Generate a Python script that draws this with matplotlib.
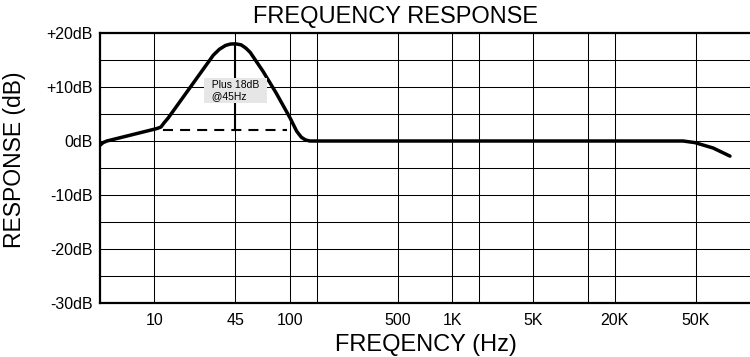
import numpy as np
import matplotlib
matplotlib.use("Agg")
import matplotlib.pyplot as plt
from matplotlib.ticker import FixedLocator, NullFormatter

plt.rcParams['font.family'] = ['Liberation Sans', 'DejaVu Sans']

# response curve, frequency in Hz and level in dB
freq = [5, 5.2, 5.46, 10.5, 11.35, 12.0, 13.0, 29.9, 33.5, 37.5, 41, 45, 49, 52.5, 56,
        67.6, 82.0, 101, 120, 135, 150, 168,
        43300, 49500, 62400, 77400]
level = [-0.8, -0.3, 0, 2.3, 2.6, 3.35, 4.3, 15.9, 17.0, 17.7, 17.95, 18, 17.8, 17.2, 16.4,
         12.9, 8.9, 4.3, 1.8, 0.7, 0.2, 0,
         0, -0.3, -1.3, -2.8]

# boost marker
peak_freq = 45
peak_db = 18
base_db = 2
base_span = [11.8, 96]

tick_freqs = [10, 45, 100, 500, 1000, 5000, 20000, 50000]
tick_labels = ['10', '45', '100', '500', '1K', '5K', '20K', '50K']
extra_grid = [200, 2000, 10000]
db_ticks = [20, 10, 0, -10, -20, -30]
db_labels = ['+20dB', '+10dB', '0dB', '-10dB', '-20dB', '-30dB']

# the printed chart spaces its frequency grid unevenly, so map it piecewise
anchor_f = np.log10([5, 10, 45, 100, 200, 500, 1000, 2000, 5000, 10000, 20000, 50000, 100000])
anchor_u = np.array([0, 2, 5, 7, 8, 11, 13, 14, 16, 18, 19, 22, 24], dtype=float)


def fwd(f):
    f = np.clip(np.asarray(f, dtype=float), 1e-3, None)
    return np.interp(np.log10(f), anchor_f, anchor_u)


def inv(u):
    return 10 ** np.interp(np.asarray(u, dtype=float), anchor_u, anchor_f)


fig = plt.figure(figsize=(7.5, 3.57), dpi=100)
ax = fig.add_axes([100 / 750, 1 - 303 / 357, 1 - 100 / 750, (303 - 33) / 357])
ax.set_xscale('function', functions=(fwd, inv))
ax.set_xlim(5, 100000)
ax.set_ylim(-30, 20)

ax.xaxis.set_major_locator(FixedLocator(tick_freqs))
ax.set_xticklabels(tick_labels)
ax.xaxis.set_minor_locator(FixedLocator(extra_grid))
ax.xaxis.set_minor_formatter(NullFormatter())
ax.yaxis.set_major_locator(FixedLocator(db_ticks))
ax.set_yticklabels(db_labels)
ax.yaxis.set_minor_locator(FixedLocator([15, 5, -5, -15, -25]))
ax.tick_params(which='both', length=0, labelsize=11.5, colors='black')
ax.tick_params(axis='x', pad=7)
ax.tick_params(axis='y', pad=5)

ax.grid(which='both', color='black', linewidth=0.75)
ax.set_axisbelow(True)
for side in ['left', 'bottom', 'top']:
    ax.spines[side].set_linewidth(1.6)
ax.spines['right'].set_visible(False)

ax.plot(freq, level, color='black', linewidth=2.5, solid_capstyle='round',
        solid_joinstyle='round', zorder=4)
ax.plot([peak_freq, peak_freq], [base_db, peak_db], color='black', linewidth=1.5, zorder=3)
ax.plot(base_span, [base_db, base_db], color='black', linewidth=1.5,
        linestyle=(0, (4.8, 3.4)), zorder=3)
ax.text(peak_freq, 9.4, '  Plus 18dB  \n  @45Hz', fontsize=7.5, ha='center', va='center',
        multialignment='left', linespacing=1.15, zorder=5,
        bbox=dict(boxstyle='square,pad=0.2', facecolor='#e6e6e6', edgecolor='none'))

fig.text(396 / 750, 1 - 17 / 357, 'FREQUENCY RESPONSE', fontsize=17, ha='center', va='center')
fig.text(426 / 750, 1 - 345 / 357, 'FREQENCY (Hz)', fontsize=17, ha='center', va='center')
fig.text(15 / 750, 1 - 160 / 357, 'RESPONSE (dB)', fontsize=16.5, ha='center', va='center',
         rotation=90)

fig.savefig('out.png', dpi=100)
